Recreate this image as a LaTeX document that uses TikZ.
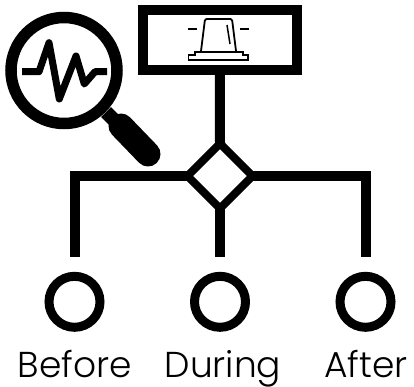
\documentclass[tikz,border=0pt]{standalone}
\usepackage{fontspec}
\setmainfont{Poppins}[UprightFont=* Light]
\usetikzlibrary{shapes.geometric}
\tikzset{
  conn/.style={line width=10pt},
  alarmbox/.style={draw,line width=10pt,minimum width=154.5pt,minimum height=60pt,inner sep=0pt,outer sep=0pt},
  gate/.style={draw,diamond,aspect=1,line width=8pt,minimum width=65pt,minimum height=65pt,inner sep=0pt,outer sep=0pt},
  leaf/.style={draw,circle,line width=9pt,minimum size=51pt,inner sep=0pt,outer sep=0pt},
  caption/.style={font=\fontsize{36}{36}\selectfont,anchor=base,inner sep=0pt},
  thin icon/.style={line width=1.8pt,line join=miter},
}
\begin{document}
\begin{tikzpicture}[x=1pt,y=-1pt]
\useasboundingbox (0,0) rectangle (414,387);
% alarm box
\node[alarmbox] (box) at (219.75,40) {};
\draw[thin icon,rounded corners=1.5pt] (201,51) -- (205,19) -- (232,19) -- (236,51);
\draw[thin icon] (188.5,60) -- (188.5,55) -- (195,55) -- (195,52) -- (243,52) -- (243,55) -- (248,55) -- (248,60) -- cycle;
\draw[line width=1.2pt] (188,29) -- (197,29);
\draw[line width=1.8pt] (240,29) -- (249,29);
\draw[line width=1.5pt] (227,25) -- (230,44);
% magnifier
\draw[line width=11.5pt] (64,70.5) circle[radius=53];
\draw[line width=14pt] (106,112) -- (122,128);
\draw[line width=25pt,line cap=round] (121,126) -- (148,154);
\draw[line width=7pt,line join=round] (22,71.7) -- (39,71.7) -- (49,42.7) -- (59.3,99) -- (76,56) -- (84.3,84) -- (95,71.7) -- (107,71.7);
% gate and leaves
\node[gate] (gate) at (220,176) {};
\node[leaf] (before) at (74.5,301.8) {};
\node[leaf] (during) at (220,301.8) {};
\node[leaf] (after) at (365.5,301.8) {};
\coordinate (e1) at (74.5,256.7);
\coordinate (e2) at (220,256.7);
\coordinate (e3) at (365.5,256.7);
\draw[conn] (box.south) -- (gate.north);
\draw[conn] (gate.west) -| (e1);
\draw[conn] (gate.south) -- (e2);
\draw[conn] (gate.east) -| (e3);
% labels
\node[caption] (lb) at (75,377) {Before};
\node[caption] (ld) at (223,377) {During};
\node[caption] (la) at (366,377) {After};
\end{tikzpicture}
\end{document}
